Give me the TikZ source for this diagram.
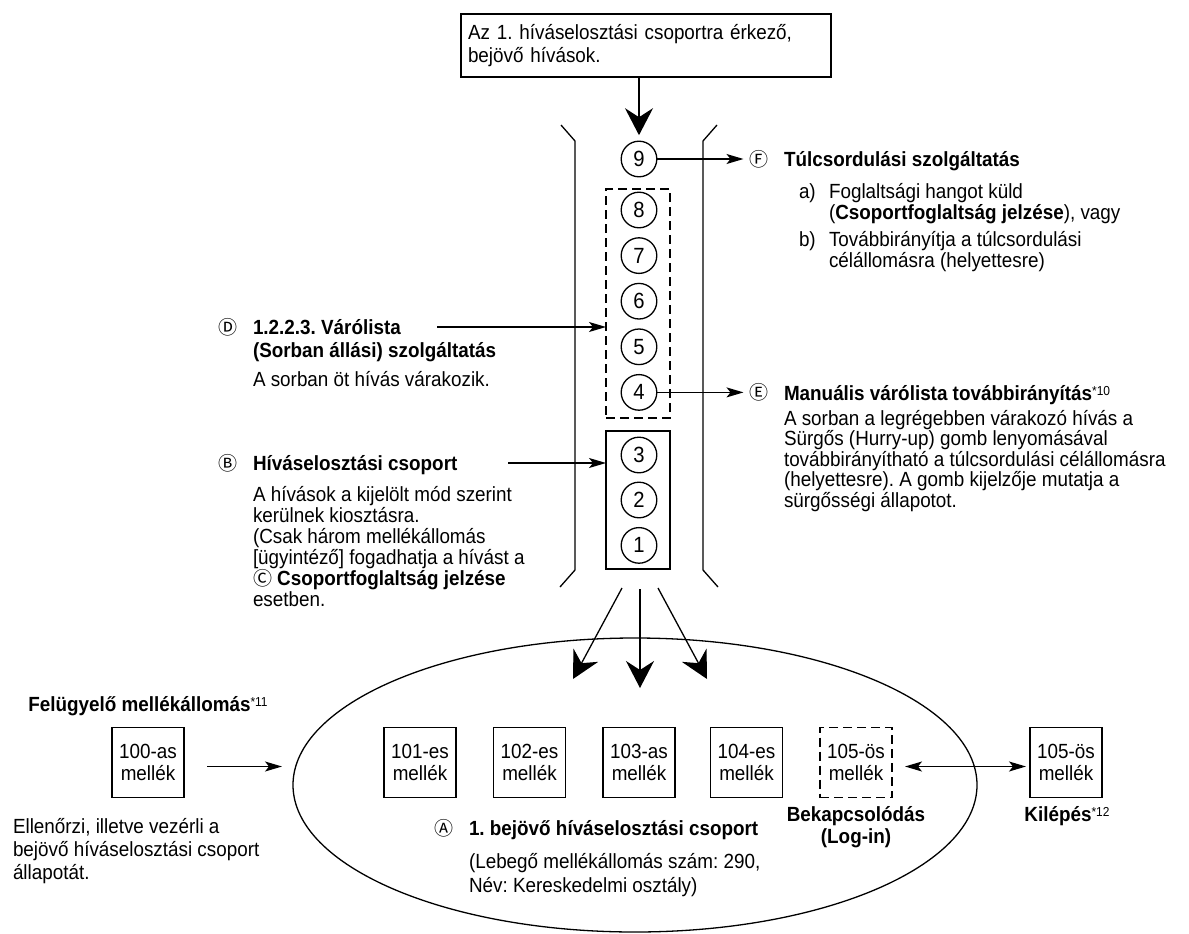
\documentclass[tikz,border=0pt]{standalone}
\usepackage{fontspec}
\setmainfont{Liberation Sans}[FakeStretch=0.92]
\newfontfamily\symfam{Noto Sans CJK JP}
\usetikzlibrary{arrows.meta,shapes.geometric}
\frenchspacing
% circled reference letter used inside running text
\newcommand\encirc[1]{{\symfam\fontsize{19}{19}\selectfont #1}}
% footnote reference after a heading
\newcommand\fnref[1]{\raisebox{5pt}{\mdseries\fontsize{13}{13}\selectfont #1}}
\begin{document}
\begin{tikzpicture}[x=1pt,y=-1pt,line width=1.3pt,
  every node/.style={inner sep=0pt,outer sep=0pt},
  body/.style={anchor=base west,align=left,font=\fontsize{20.5}{21}\selectfont},
  head/.style={anchor=base west,align=left,font=\fontsize{20.5}{23}\selectfont\bfseries},
  lettr/.style={font=\symfam\fontsize{19}{19}\selectfont},
  qcirc/.style={circle,draw,minimum size=35.6pt,font=\fontsize{22}{22}\selectfont},
  extbox/.style={draw,minimum width=72pt,minimum height=70pt,align=center,font=\fontsize{20.5}{22}\selectfont},
  thinarr/.style={-{Stealth[length=17pt,width=10pt,inset=4pt]}},
  botharr/.style={{Stealth[length=17pt,width=10pt,inset=4pt]}-{Stealth[length=17pt,width=10pt,inset=4pt]}},
  bigarr/.style={-{Stealth[length=27pt,width=28pt,inset=9pt]}},
  dashbox/.style={dash pattern=on 9pt off 5pt},
]
\useasboundingbox (0,0) rectangle (1189,934);
% note: a multi-line node is placed by the baseline of its last line

% ---- the extension group (ellipse) ----
\node[draw,ellipse,minimum width=684pt,minimum height=294pt] (grp) at (635,785) {};

% ---- incoming calls ----
\node[draw,anchor=north west,minimum width=370pt,minimum height=63pt,text width=356pt,
      align=left,font=\fontsize{20.5}{23}\selectfont] (src) at (461,14)
      {Az 1. híváselosztási csoportra érkező,\\bejövő hívások.};

% ---- queue ----
\node[qcirc] (c9) at (639,159) {9};
\foreach \n/\yy in {8/210,7/255.6,6/301.2,5/346.8,4/392.4,3/455,2/500,1/545.4}
  \node[qcirc] (c\n) at (639,\yy) {\n};
\node[draw,dashbox,minimum width=64pt,minimum height=229pt] (qd) at (638,303.5) {};
\node[draw,minimum width=64pt,minimum height=138pt] (qb) at (638,500) {};

% funnel walls
\draw (561,125) -- (575,141) -- (575,570) -- (560,587);
\draw (717,125) -- (703,141) -- (703,570) -- (718,587);

\draw[bigarr] (src.south -| c9) -- ([yshift=6pt]c9.north);

% ---- overflow service ----
\node[lettr] (lF) at (759,159) {Ⓕ};
\node[head] (tF) at (784,166.5) {Túlcsordulási szolgáltatás};
\node[body] (fa) at (799,198) {a)};
\node[body] (fatx) at (829,219) {Foglaltsági hangot küld\\(\textbf{Csoportfoglaltság jelzése}), vagy};
\node[body] (fb) at (799,246) {b)};
\node[body] (fbtx) at (829,267) {Továbbirányítja a túlcsordulási\\célállomásra (helyettesre)};
\draw[thinarr] (c9) -- ([xshift=-6pt]lF.west);

% ---- manual queue redirection ----
\node[lettr] (lE) at (759,392.4) {Ⓔ};
\node[head] (tE) at (784,400) {Manuális várólista továbbirányítás\fnref{*10}};
\node[body,font=\fontsize{20.5}{20.6}\selectfont] (bE) at (784,507.4)
  {A sorban a legrégebben várakozó hívás a\\Sürgős (Hurry-up) gomb lenyomásával\\továbbirányítható a túlcsordulási célállomásra\\(helyettesre). A gomb kijelzője mutatja a\\sürgősségi állapotot.};
\draw[thinarr] (c4) -- ([xshift=-6pt]lE.west);

% ---- queuing service ----
\node[lettr] (lD) at (228,327) {Ⓓ};
\node[head] (tD) at (253,357.5) {1.2.2.3. Várólista\\(Sorban állási) szolgáltatás};
\node[body] (bD) at (253,386) {A sorban öt hívás várakozik.};
\coordinate (dS) at (437,327);
\draw[thinarr] (dS) -- (dS -| qd.west);

% ---- distribution group ----
\node[lettr] (lB) at (228,463) {Ⓑ};
\node[head] (tB) at (253,470) {Híváselosztási csoport};
\node[body] (bB) at (253,606)
  {A hívások a kijelölt mód szerint\\kerülnek kiosztásra.\\(Csak három mellékállomás\\{[}ügyintéző] fogadhatja a hívást a\\\encirc{Ⓒ} \textbf{Csoportfoglaltság jelzése}\\esetben.};
\coordinate (bS) at (508,463);
\draw[thinarr] (bS) -- (bS -| qb.west);

% ---- distribution to the extensions ----
\coordinate (tipL) at (573,679);
\coordinate (tipM) at (640,688);
\coordinate (tipR) at (707,679);
\draw[bigarr] ([shift={(-16,19)}]qb.south) -- (tipL);
\draw[bigarr] ([shift={(2,20)}]qb.south) -- (tipM);
\draw[bigarr] ([shift={(20,19)}]qb.south) -- (tipR);

% ---- extensions ----
\node[extbox] (e100) at (148,762.5) {100-as\\mellék};
\node[extbox] (e101) at (420,762.5) {101-es\\mellék};
\node[extbox] (e102) at (529.5,762.5) {102-es\\mellék};
\node[extbox] (e103) at (639,762.5) {103-as\\mellék};
\node[extbox] (e104) at (746.5,762.5) {104-es\\mellék};
\node[extbox,dashbox] (e105) at (856,762.5) {105-ös\\mellék};
\node[extbox] (e105x) at (1066,762.5) {105-ös\\mellék};

% supervisor
\node[head,anchor=base] (sup) at (148,711) {Felügyelő mellékállomás\fnref{*11}};
\node[body,font=\fontsize{20.5}{23}\selectfont] (supd) at (13,879)
  {Ellenőrzi, illetve vezérli a\\bejövő híváselosztási csoport\\állapotát.};
\path ([shift={(23,4)}]e100.east) coordinate (supS);
\draw[thinarr] (supS) -- ([xshift=-11pt]grp.west |- supS);

% log-in / log-out
\node[anchor=base,align=center,font=\fontsize{20.5}{22}\selectfont\bfseries] (login) at (856,843) {Bekapcsolódás\\(Log-in)};
\node[anchor=base,font=\fontsize{20.5}{22}\selectfont\bfseries] (logout) at (1067,821) {Kilépés\fnref{*12}};
\path ([shift={(13,4)}]e105.east) coordinate (lgS);
\draw[botharr] (lgS) -- ([xshift=-4pt]e105x.west |- lgS);

% group caption
\node[lettr] (lA) at (444,828) {Ⓐ};
\node[head] (tA) at (469,835.5) {1. bejövő híváselosztási csoport};
\node[body,font=\fontsize{20.5}{24}\selectfont] (bA) at (469,892)
  {(Lebegő mellékállomás szám: 290,\\Név: Kereskedelmi osztály)};
\end{tikzpicture}
\end{document}
